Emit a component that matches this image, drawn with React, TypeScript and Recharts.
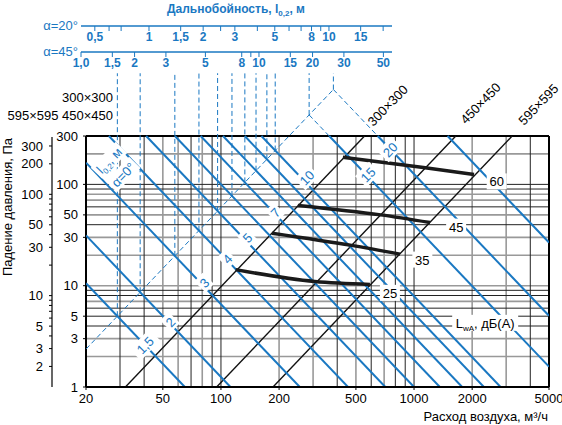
import React from 'react';
import { ComposedChart, XAxis, YAxis, Line, ReferenceLine, ReferenceDot } from 'recharts';

const BLUE = '#1a78c2';
const FONT = '"Liberation Sans", Arial, sans-serif';

// axes
const flowTicks = [20, 50, 100, 200, 500, 1000, 2000, 5000];
const pressureTicks = [1, 3, 5, 10, 30, 50, 100, 300];
const outerTicks = [2, 3, 4, 5, 6, 7, 8, 9, 10, 20, 30, 40, 50, 60, 70, 80, 90, 100, 200, 300];
const outerLabels = [2, 3, 5, 10, 30, 50, 100, 200, 300];

// grid
const flowGridDark = [30, 40, 70, 90, 100, 400, 600, 800, 900, 1000, 4000];
const flowGridLight = [50, 60, 80, 200, 300, 500, 700, 2000, 3000];
const pressGridDark = [4, 5, 6, 8, 9, 40, 60, 90, 100];
const pressGridLight = [2, 3, 7, 10, 20, 30, 50, 70, 80, 200];

// throw lines l0,2 (blue), flow at 1 Pa
const throwQ1 = [65, 112, 256, 455, 710, 1000, 1360, 1775, 2300, 2806, 6300, 11236, 25840];
const throwLabels = ['1,5', '2', '3', '4', '5', '7', '10', '15', '20'];
const throwLabelQ = [40.4, 54.5, 81.8, 107.6, 136.6, 191, 278, 576, 750];
const throwLabelP = [2.6, 4.4, 10.7, 18.5, 29.8, 52.8, 117, 125, 221];
const throwExtQ1 = [6300, 11236];
const diagQ1 = 13; // dashed l0,2 axis, flow at 1 Pa

// diffuser sizes (black), flow at 1 Pa
const sizeNames = ['300×300', '450×450', '595×595'];
const sizeQ1 = [32, 95, 186];
const sizeLabelQ = [728, 2200, 4390];
const sizeLabelP = [606, 636, 620];

// noise LwA (thick)
const noiseNames = ['25', '35', '45', '60'];
const noiseQ = [[119, 306, 591], [184, 475, 846], [250, 672, 1210], [428, 1118, 2045]];
const noiseP = [[14.4, 11, 10.3], [33, 25, 20.5], [62, 50, 42], [185, 147, 125]];
const noiseLabelQ = [750, 1104, 1652, 2680];
const noiseLabelP = [8.5, 18.1, 38.3, 107];

// top throw scales
const a20Ticks = [0.5, 0.6, 0.7, 1, 1.5, 2, 2.5, 3, 4, 5, 6, 7, 8, 9, 10, 15, 20];
const a20Labels = [0.5, 1, 1.5, 2, 3, 5, 8, 10, 15];
const a45Ticks = [1, 1.5, 2, 3, 5, 8, 9, 10, 15, 20, 30, 50];
const a45Labels = [1, 1.5, 2, 3, 5, 8, 10, 15, 20, 30, 50];

const comma = (v: number) => String(v).replace('.', ',');

const seg = (q1: number) => {
  const qa = Math.max(20, q1 / Math.sqrt(300));
  const qb = Math.min(5000, q1);
  return [{ q: qa, p: (q1 / qa) ** 2 }, { q: qb, p: (q1 / qb) ** 2 }];
};

const tag = (content: React.ReactNode, angle: number, color: string, w: number, anchor = 'middle') => (props: any) => (
  <g transform={`translate(${props.cx},${props.cy}) rotate(${angle})`}>
    {w > 0 && <rect x={-w / 2} y={-8} width={w} height={16} fill="#fff" />}
    <text textAnchor={anchor} y={5} fill={color} fontSize={13} fontFamily={FONT}>{content}</text>
  </g>
);

const ax = { xAxisId: 'q', yAxisId: 'inner' };

function MainChart() {
  return (
    <ComposedChart width={562} height={425} margin={{ top: 70, right: 13, bottom: 8, left: 0 }}>
      <XAxis xAxisId="q" dataKey="q" type="number" scale="log" domain={[20, 5000]} allowDataOverflow
        ticks={flowTicks} interval={0} height={30} tickSize={3} tickMargin={4}
        axisLine={{ stroke: '#000', strokeWidth: 2 }} tickLine={{ stroke: '#000' }}
        tick={{ fill: '#000', fontSize: 13, fontFamily: FONT }} />
      <YAxis yAxisId="inner" type="number" scale="log" domain={[1, 1346]} allowDataOverflow
        ticks={pressureTicks} interval={0} width={34} axisLine={false} tickSize={3} tickMargin={5}
        tickLine={{ stroke: '#000' }} tick={{ fill: '#000', fontSize: 13, fontFamily: FONT }} />
      <YAxis yAxisId="outer" type="number" scale="log" domain={[1.253, 1687]} allowDataOverflow
        ticks={outerTicks} interval={0} width={52} axisLine={false} tickSize={3} tickMargin={6}
        tickFormatter={(v: number) => (outerLabels.includes(v) ? String(v) : '')}
        tickLine={{ stroke: '#000' }} tick={{ fill: '#000', fontSize: 13, fontFamily: FONT }} />

      {pressGridLight.map((v) => (
        <ReferenceLine key={'hl' + v} {...ax} segment={[{ x: 20, y: v }, { x: 5000, y: v }]} stroke="#999" strokeWidth={1.6} />
      ))}
      {flowGridLight.map((v) => (
        <ReferenceLine key={'vl' + v} {...ax} segment={[{ x: v, y: 1 }, { x: v, y: 300 }]} stroke="#999" strokeWidth={1.6} />
      ))}
      {pressGridDark.map((v) => (
        <ReferenceLine key={'hd' + v} {...ax} segment={[{ x: 20, y: v }, { x: 5000, y: v }]} stroke="#222" strokeWidth={1} />
      ))}
      {flowGridDark.map((v) => (
        <ReferenceLine key={'vd' + v} {...ax} segment={[{ x: v, y: 1 }, { x: v, y: 300 }]} stroke="#222" strokeWidth={1} />
      ))}
      <ReferenceLine {...ax} segment={[{ x: 20, y: 300 }, { x: 5000, y: 300 }]} stroke="#000" strokeWidth={2} />
      <ReferenceLine {...ax} segment={[{ x: 20, y: 1 }, { x: 20, y: 300 }]} stroke="#000" strokeWidth={2} />
      <ReferenceLine {...ax} segment={[{ x: 5000, y: 1 }, { x: 5000, y: 300 }]} stroke="#000" strokeWidth={2} />

      {sizeQ1.map((q1) => (
        <Line key={'s' + q1} {...ax} data={[{ q: q1, p: 1 }, { q: q1 * Math.sqrt(300), p: 300 }]} dataKey="p"
          stroke="#111" strokeWidth={1.4} dot={false} isAnimationActive={false} />
      ))}

      {throwQ1.map((q1) => (
        <Line key={'t' + q1} {...ax} data={seg(q1)} dataKey="p" stroke={BLUE} strokeWidth={2}
          dot={false} isAnimationActive={false} />
      ))}
      {throwExtQ1.map((q1) => {
        const qc = Math.sqrt(q1 * diagQ1);
        const qt = q1 / Math.sqrt(300);
        return (
          <Line key={'e' + q1} {...ax} data={[{ q: qc, p: (q1 / qc) ** 2 }, { q: qt, p: 300 }]} dataKey="p"
            stroke={BLUE} strokeWidth={1} strokeDasharray="5 3" dot={false} isAnimationActive={false} />
        );
      })}
      {throwQ1.slice(0, 12).map((q1) => {
        const qc = Math.sqrt(q1 * diagQ1);
        return (
          <Line key={'g' + q1} {...ax} data={[{ q: qc, p: (qc / diagQ1) ** 2 }, { q: qc, p: 1250 }]} dataKey="p"
            stroke={BLUE} strokeWidth={1} strokeDasharray="5 3" dot={false} isAnimationActive={false} />
        );
      })}
      <Line {...ax} data={[{ q: 20, p: (20 / diagQ1) ** 2 }, { q: Math.sqrt(11236 * diagQ1), p: 11236 / diagQ1 }]}
        dataKey="p" stroke={BLUE} strokeWidth={1} strokeDasharray="5 3" dot={false} isAnimationActive={false} />

      {noiseQ.map((qs, i) => (
        <Line key={'n' + i} {...ax} data={qs.map((q, j) => ({ q, p: noiseP[i][j] }))} dataKey="p" type="monotone"
          stroke="#1a1a1a" strokeWidth={3.5} dot={false} isAnimationActive={false} />
      ))}

      {throwLabels.map((t, i) => (
        <ReferenceDot key={'tl' + i} {...ax} x={throwLabelQ[i]} y={throwLabelP[i]} r={0}
          shape={tag(t, -46, BLUE, t.length * 8 + 4)} />
      ))}
      {noiseNames.map((t, i) => (
        <ReferenceDot key={'nl' + i} {...ax} x={noiseLabelQ[i]} y={noiseLabelP[i]} r={0}
          shape={tag(t, 0, '#000', 20)} />
      ))}
      <ReferenceDot {...ax} x={2336} y={4.3} r={0}
        shape={tag(<><tspan>L</tspan><tspan fontSize={8} dy={3}>wA</tspan><tspan dy={-3}>, дБ(А)</tspan></>, 0, '#000', 66)} />
      {sizeNames.map((t, i) => (
        <ReferenceDot key={'sl' + i} {...ax} x={sizeLabelQ[i]} y={sizeLabelP[i]} r={0}
          shape={tag(t, -46, '#000', 0)} />
      ))}
      <ReferenceDot {...ax} x={26.3} y={173} r={0}
        shape={tag(<><tspan>l</tspan><tspan fontSize={8} dy={3}>0,2</tspan><tspan dy={-3}>, м</tspan></>, -46, BLUE, 36)} />
      <ReferenceDot {...ax} x={31.1} y={125} r={0} shape={tag('α=0°', -46, BLUE, 34)} />
      <ReferenceDot {...ax} x={27.6} y={727} r={0} shape={tag('300×300', 0, '#000', 0, 'end')} />
      <ReferenceDot {...ax} x={27.6} y={481} r={0} shape={tag('595×595 450×450', 0, '#000', 0, 'end')} />

      <line x1={52} y1={137} x2={52} y2={387} stroke="#000" strokeWidth={1.2} />
      <text x={12} y={207} transform="rotate(-90 12 207)" textAnchor="middle" fontSize={13} fontFamily={FONT} fill="#000">
        Падение давления, Па
      </text>
      <text x={548} y={421} textAnchor="end" fontSize={13} fontFamily={FONT} fill="#000">
        Расход воздуха, м³/ч
      </text>
    </ComposedChart>
  );
}

const topData = a45Ticks.map((v) => ({ a20: v / 2, a45: v, k: 1 }));

function TopScales() {
  return (
    <ComposedChart width={562} height={75} data={topData} margin={{ top: 20, right: 170, bottom: 0, left: 81 }}>
      <YAxis yAxisId="h" dataKey="k" hide domain={[0, 2]} />
      <XAxis xAxisId="a20" dataKey="a20" type="number" scale="log" domain={[0.419, 22.4]} allowDataOverflow
        ticks={a20Ticks} interval={0} height={26} tickSize={5} tickMargin={1}
        tickFormatter={(v: number) => (a20Labels.includes(v) ? comma(v) : '')}
        axisLine={{ stroke: BLUE, strokeWidth: 1.5 }} tickLine={{ stroke: BLUE }}
        tick={{ fill: BLUE, fontSize: 12, fontFamily: FONT, fontWeight: 600 }} />
      <XAxis xAxisId="a45" dataKey="a45" type="number" scale="log" domain={[1, 55.9]} allowDataOverflow
        ticks={a45Ticks} interval={0} height={23} tickSize={5} tickMargin={1}
        tickFormatter={(v: number) => (v === 1 ? '1,0' : a45Labels.includes(v) ? comma(v) : '')}
        axisLine={{ stroke: BLUE, strokeWidth: 1.5 }} tickLine={{ stroke: BLUE }}
        tick={{ fill: BLUE, fontSize: 12, fontFamily: FONT, fontWeight: 600 }} />
      <text x={236} y={13} textAnchor="middle" fontSize={12} fontFamily={FONT} fill={BLUE} fontWeight={600}>
        <tspan>Дальнобойность, l</tspan><tspan fontSize={8} dy={3}>0,2</tspan><tspan dy={-3}>, м</tspan>
      </text>
      <text x={78} y={30} textAnchor="end" fontSize={13} fontFamily={FONT} fill={BLUE}>α=20°</text>
      <text x={78} y={56} textAnchor="end" fontSize={13} fontFamily={FONT} fill={BLUE}>α=45°</text>
    </ComposedChart>
  );
}

export default function App() {
  return (
    <div style={{ position: 'absolute', left: 0, top: 0, width: 562, height: 425, background: '#fff' }}>
      <div style={{ position: 'absolute', left: 0, top: 0 }}>
        <MainChart />
      </div>
      <div style={{ position: 'absolute', left: 0, top: 0 }}>
        <TopScales />
      </div>
    </div>
  );
}
